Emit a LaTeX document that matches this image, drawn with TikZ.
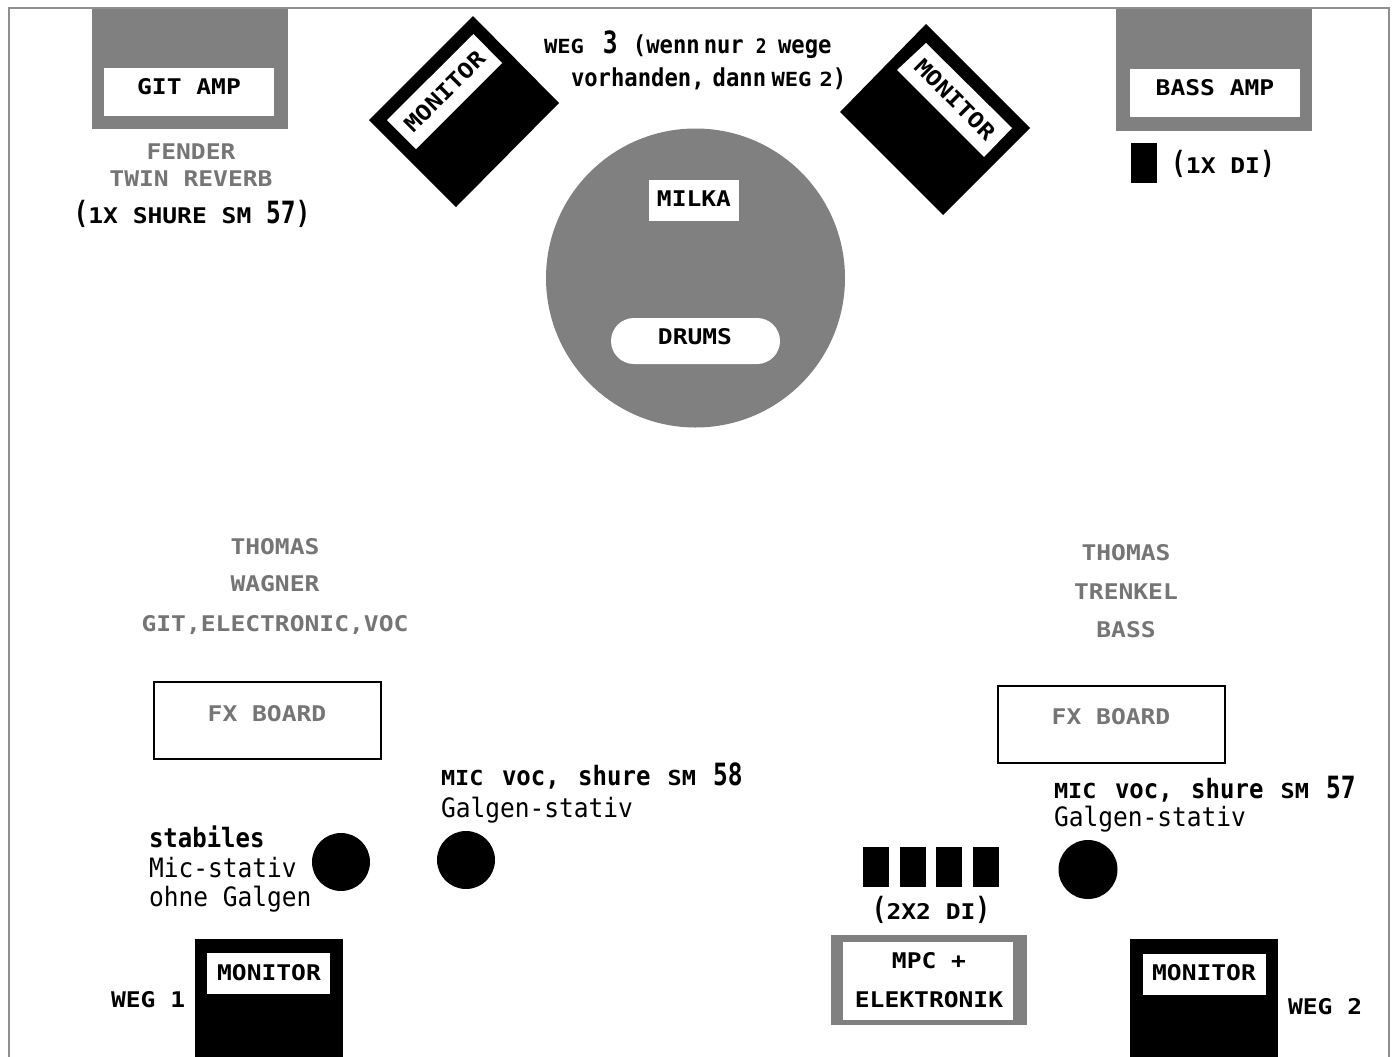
\documentclass[tikz,border=0pt]{standalone}
\usepackage{fontspec}
\setmainfont{DejaVu Sans Mono}
\newfontfamily\capfam[FakeStretch=1.14]{DejaVu Sans Mono Bold}
\newfontfamily\lowbold[FakeStretch=0.9]{DejaVu Sans Mono Bold}
\newfontfamily\lowreg[FakeStretch=0.92]{DejaVu Sans Mono}
\newfontfamily\tallfam[FakeStretch=0.8]{DejaVu Sans Mono Bold}
\newcommand{\capt}{\capfam\fontsize{16.2}{16.2}\selectfont}
\newcommand{\smc}[1]{{\capfam\fontsize{15.5}{15.5}\selectfont #1}}
\newcommand{\smw}[1]{{\capfam\fontsize{14.6}{14.6}\selectfont #1}}
\newcommand{\lb}{\lowbold\fontsize{20}{20}\selectfont}
\newcommand{\lr}{\lowreg\fontsize{20}{20}\selectfont}
\newcommand{\wegf}{\lowbold\fontsize{18.5}{18.5}\selectfont}
\newcommand{\tall}[1]{{\tallfam\fontsize{23}{23}\selectfont #1}}
\definecolor{amp}{HTML}{808080}
\definecolor{frameg}{HTML}{8F8F8F}
\definecolor{softg}{HTML}{757575}
\tikzset{
  every node/.style={inner sep=0pt,outer sep=0pt},
  lab/.style={font=\capt,text=black,anchor=center},
  grey/.style={font=\capt,text=softg,anchor=center},
  lowb/.style={font=\lb,text=black,anchor=west},
  lowr/.style={font=\lr,text=black,anchor=west},
  solidblack/.style={fill=black},
  solidgrey/.style={fill=amp},
  paper/.style={fill=white},
  fxbox/.style={draw=black,line width=1.5pt,fill=white}
}
\begin{document}
\begin{tikzpicture}[x=0.75pt,y=-0.75pt]
\useasboundingbox (0,0) rectangle (1393,1057);
\fill[white] (0,0) rectangle (1393,1057);
\draw[frameg,line width=2pt] (9,1070) -- (9,8) -- (1389,8) -- (1389,1070);
% amps
\fill[solidgrey] (92,9) rectangle (288,129);
\fill[paper] (104,68) rectangle (274,116);
\node[lab] (gitamp) at (189,87) {GIT AMP};
\fill[solidgrey] (1116,9) rectangle (1312,131);
\fill[paper] (1130,69) rectangle (1300,117);
\node[lab] (bassamp) at (1215,88) {BASS AMP};
\node[grey] (fender) at (191,152) {FENDER};
\node[grey] (twin) at (191,179) {TWIN REVERB};
\node[lab] (shure) at (192,214) {\tall{(}1X SHURE SM \tall{57)}};
\fill[solidblack] (1131,143) rectangle (1157,183);
\node[lab] (onedi) at (1223,164) {\tall{(}1X DI\tall{)}};
% angled monitors
\fill[solidblack] (473,16) -- (559,103) -- (456,207) -- (369,120) -- cycle;
\fill[paper] (473.5,34) -- (502,63) -- (416,149) -- (387,120) -- cycle;
\node[lab,rotate=45] (monl) at (444.5,91.5) {MONITOR};
\fill[solidblack] (926,24) -- (1030,128) -- (943,215) -- (840,112) -- cycle;
\fill[paper] (926,43) -- (1012,128) -- (984,157) -- (897,70) -- cycle;
\node[lab,rotate=-45] (monr) at (955,99.5) {MONITOR};
\node[lowb,font=\wegf] (weg3) at (544,45) {\smw{WEG}\hspace{4pt} \tall{3}\hspace{1.5pt} (wenn\hspace{-7pt} nur\hspace{-1pt} {\fontsize{15}{15}\selectfont 2}\hspace{-1.5pt} wege};
\node[lowb,font=\wegf] (weg3b) at (571,79) {vorhanden,\hspace{-4pt} dann\hspace{-6pt} \smw{WEG}\hspace{-4pt} \smw{2}{\wegf )}};
% drums
\fill[solidgrey] (695.5,278) circle[radius=149.5];
\fill[paper] (649,180) rectangle (739,221);
\node[lab] (milka) at (694,199) {MILKA};
\fill[paper,rounded corners=17.25pt] (611,318) rectangle (780,364);
\node[lab] (drums) at (695,337) {DRUMS};
% names
\node[grey] (t1) at (275,547) {THOMAS};
\node[grey] (t2) at (275,584) {WAGNER};
\node[grey] (t3) at (275,624.5) {GIT,ELECTRONIC,VOC};
\node[grey] (b1) at (1126,552.5) {THOMAS};
\node[grey] (b2) at (1126,591.5) {TRENKEL};
\node[grey] (b3) at (1126,629.5) {BASS};
% fx boards
\draw[fxbox] (154,682) rectangle (381,759);
\node[grey] (fxl) at (267,714) {FX BOARD};
\draw[fxbox] (998,686) rectangle (1225,763);
\node[grey] (fxr) at (1111,717) {FX BOARD};
% mic texts
\node[lowb] (m1) at (441,776) {\smc{MIC}\hspace{3pt} voc,\hspace{3pt} shure\hspace{2pt} \smc{SM}\hspace{2pt} \tall{58}};
\node[lowr] (m2) at (441,810) {Galgen-stativ};
\node[lowb] (m3) at (1054,789) {\smc{MIC}\hspace{3pt} voc,\hspace{3pt} shure\hspace{2pt} \smc{SM}\hspace{2pt} \tall{57}};
\node[lowr] (m4) at (1054,819) {Galgen-stativ};
\node[lowb] (s1) at (149,837) {stabiles};
\node[lowr] (s2) at (149,868) {Mic-stativ};
\node[lowr] (s3) at (149,899) {ohne Galgen};
\fill[solidblack] (341,862) circle[radius=29];
\fill[solidblack] (466,860) circle[radius=29];
\fill[solidblack] (1088,869.5) circle[radius=29.5];
% DI boxes
\fill[solidblack] (863,847) rectangle (889,887);
\fill[solidblack] (900,847) rectangle (926,887);
\fill[solidblack] (936,847) rectangle (962,887);
\fill[solidblack] (973,847) rectangle (999,887);
\node[lab] (twodi) at (931,910) {\tall{(}2X2 DI\tall{)}};
% MPC
\fill[solidgrey] (831,935) rectangle (1027,1025);
\fill[paper] (843,942) rectangle (1013,1020);
\node[lab] (mpc) at (929,961) {MPC +};
\node[lab] (elek) at (929,1000) {ELEKTRONIK};
% floor monitors
\fill[solidblack] (195,939) rectangle (343,1060);
\fill[paper] (207,953) rectangle (330,994);
\node[lab] (mon1) at (269,973) {MONITOR};
\node[lab,anchor=west] (w1) at (111,1000) {WEG 1};
\fill[solidblack] (1130,939) rectangle (1278,1060);
\fill[paper] (1143,954) rectangle (1266,995);
\node[lab] (mon2) at (1204,973) {MONITOR};
\node[lab,anchor=west] (w2) at (1288,1007) {WEG 2};
\end{tikzpicture}
\end{document}
